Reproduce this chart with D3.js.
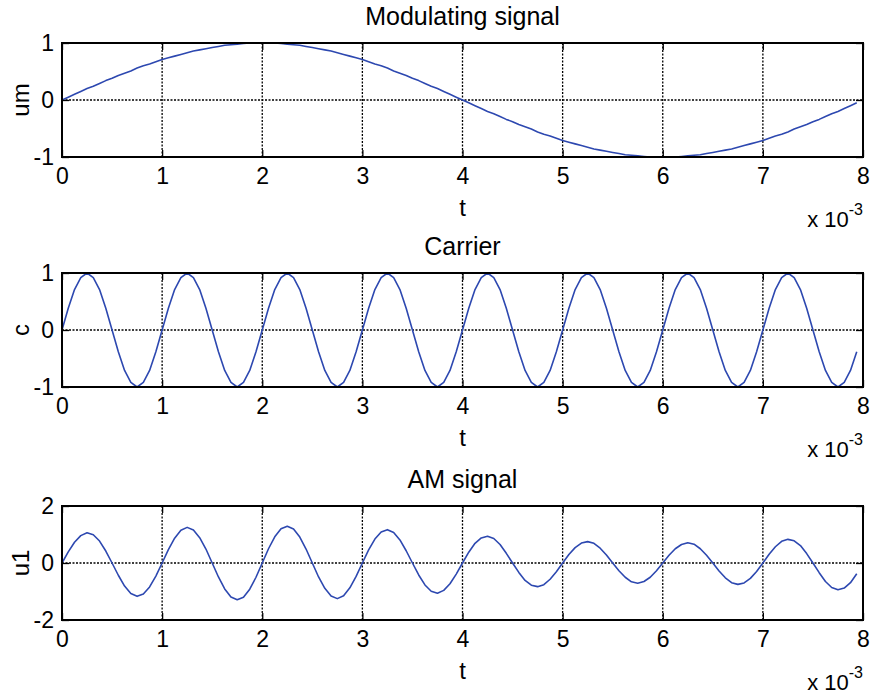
<!DOCTYPE html>
<html>
<head>
<meta charset="utf-8">
<script src="https://cdn.jsdelivr.net/npm/d3@7"></script>
<style>
  body { margin: 0; background: #fff; }
  svg text { font-family: "Liberation Sans", Arial, Helvetica, sans-serif; fill: #000; }
</style>
</head>
<body>
<div id="chart"></div>
<script>
// time between samples, in units of 1e-3 s (16 samples per carrier period)
const sampleStep = 1 / 16;
const xTicks = [0, 1, 2, 3, 4, 5, 6, 7, 8];

const modulating = [
  0, 0.05, 0.10, 0.15, 0.20, 0.24, 0.29, 0.34, 0.38, 0.43, 0.47, 0.51, 0.56, 0.60, 0.63, 0.67,
  0.71, 0.74, 0.77, 0.80, 0.83, 0.86, 0.88, 0.90, 0.92, 0.94, 0.96, 0.97, 0.98, 0.99, 1.00, 1.00,
  1.00, 1.00, 1.00, 0.99, 0.98, 0.97, 0.96, 0.94, 0.92, 0.90, 0.88, 0.86, 0.83, 0.80, 0.77, 0.74,
  0.71, 0.67, 0.63, 0.60, 0.56, 0.51, 0.47, 0.43, 0.38, 0.34, 0.29, 0.24, 0.20, 0.15, 0.10, 0.05,
  0, -0.05, -0.10, -0.15, -0.20, -0.24, -0.29, -0.34, -0.38, -0.43, -0.47, -0.51, -0.56, -0.60, -0.63, -0.67,
  -0.71, -0.74, -0.77, -0.80, -0.83, -0.86, -0.88, -0.90, -0.92, -0.94, -0.96, -0.97, -0.98, -0.99, -1.00, -1.00,
  -1.00, -1.00, -1.00, -0.99, -0.98, -0.97, -0.96, -0.94, -0.92, -0.90, -0.88, -0.86, -0.83, -0.80, -0.77, -0.74,
  -0.71, -0.67, -0.63, -0.60, -0.56, -0.51, -0.47, -0.43, -0.38, -0.34, -0.29, -0.24, -0.20, -0.15, -0.10, -0.05
];

const carrier = [
  0, 0.38, 0.71, 0.92, 1, 0.92, 0.71, 0.38, 0, -0.38, -0.71, -0.92, -1, -0.92, -0.71, -0.38,
  0, 0.38, 0.71, 0.92, 1, 0.92, 0.71, 0.38, 0, -0.38, -0.71, -0.92, -1, -0.92, -0.71, -0.38,
  0, 0.38, 0.71, 0.92, 1, 0.92, 0.71, 0.38, 0, -0.38, -0.71, -0.92, -1, -0.92, -0.71, -0.38,
  0, 0.38, 0.71, 0.92, 1, 0.92, 0.71, 0.38, 0, -0.38, -0.71, -0.92, -1, -0.92, -0.71, -0.38,
  0, 0.38, 0.71, 0.92, 1, 0.92, 0.71, 0.38, 0, -0.38, -0.71, -0.92, -1, -0.92, -0.71, -0.38,
  0, 0.38, 0.71, 0.92, 1, 0.92, 0.71, 0.38, 0, -0.38, -0.71, -0.92, -1, -0.92, -0.71, -0.38,
  0, 0.38, 0.71, 0.92, 1, 0.92, 0.71, 0.38, 0, -0.38, -0.71, -0.92, -1, -0.92, -0.71, -0.38,
  0, 0.38, 0.71, 0.92, 1, 0.92, 0.71, 0.38, 0, -0.38, -0.71, -0.92, -1, -0.92, -0.71, -0.38
];

const amSignal = [
  0, 0.39, 0.73, 0.96, 1.06, 0.99, 0.77, 0.42, 0, -0.43, -0.81, -1.07, -1.17, -1.09, -0.84, -0.46,
  0, 0.47, 0.87, 1.15, 1.25, 1.16, 0.89, 0.49, 0, -0.49, -0.91, -1.19, -1.29, -1.20, -0.92, -0.50,
  0, 0.50, 0.92, 1.20, 1.29, 1.19, 0.91, 0.49, 0, -0.49, -0.89, -1.16, -1.25, -1.15, -0.87, -0.47,
  0, 0.46, 0.84, 1.09, 1.17, 1.07, 0.81, 0.43, 0, -0.42, -0.77, -0.99, -1.06, -0.96, -0.73, -0.39,
  0, 0.38, 0.69, 0.88, 0.94, 0.86, 0.65, 0.34, 0, -0.33, -0.61, -0.78, -0.83, -0.76, -0.57, -0.31,
  0, 0.30, 0.54, 0.70, 0.75, 0.69, 0.52, 0.28, 0, -0.27, -0.50, -0.66, -0.71, -0.65, -0.50, -0.27,
  0, 0.27, 0.50, 0.65, 0.71, 0.66, 0.50, 0.27, 0, -0.28, -0.52, -0.69, -0.75, -0.70, -0.54, -0.30,
  0, 0.31, 0.57, 0.76, 0.83, 0.78, 0.61, 0.33, 0, -0.34, -0.65, -0.86, -0.94, -0.88, -0.69, -0.38
];

const panels = [
  { title: "Modulating signal", ylabel: "um", values: modulating, yDomain: [-1, 1], yTicks: [-1, 0, 1] },
  { title: "Carrier", ylabel: "c", values: carrier, yDomain: [-1, 1], yTicks: [-1, 0, 1] },
  { title: "AM signal", ylabel: "u1", values: amSignal, yDomain: [-2, 2], yTicks: [-2, 0, 2] }
];

const width = 877;
const height = 697;
const left = 62, right = 863;
const panelTops = [43, 273, 506];
const panelHeight = 114;
const tickLen = 7;

const svg = d3.select("#chart")
  .append("svg")
  .attr("width", width)
  .attr("height", height);

const x = d3.scaleLinear().domain([0, 8]).range([left, right]);

panels.forEach((p, k) => {
  const g = svg.append("g").attr("transform", `translate(0,${panelTops[k]})`);
  const y = d3.scaleLinear().domain(p.yDomain).range([panelHeight, 0]);

  // dotted grid
  g.selectAll(".vgrid")
    .data(xTicks.slice(1, -1))
    .enter()
    .append("line")
    .attr("x1", d => x(d)).attr("x2", d => x(d))
    .attr("y1", 0).attr("y2", panelHeight)
    .attr("stroke", "#000")
    .attr("stroke-width", 1.3)
    .attr("stroke-dasharray", "2,1.5");

  g.selectAll(".hgrid")
    .data(p.yTicks.slice(1, -1))
    .enter()
    .append("line")
    .attr("x1", left).attr("x2", right)
    .attr("y1", d => y(d)).attr("y2", d => y(d))
    .attr("stroke", "#000")
    .attr("stroke-width", 1.3)
    .attr("stroke-dasharray", "2,1.5");

  // the signal
  const line = d3.line()
    .x((d, i) => x(i * sampleStep))
    .y(d => y(d));

  g.append("path")
    .datum(p.values)
    .attr("fill", "none")
    .attr("stroke", "#2d48b0")
    .attr("stroke-width", 1.6)
    .attr("stroke-linejoin", "round")
    .attr("d", line);

  // axes, ticks pointing inward like matlab
  const bottom = g.append("g")
    .attr("transform", `translate(0,${panelHeight})`)
    .call(d3.axisBottom(x).tickValues(xTicks).tickSize(-tickLen).tickPadding(11).tickFormat(d => String(d)));
  const top = g.append("g")
    .call(d3.axisTop(x).tickValues(xTicks).tickSize(-tickLen).tickFormat(""));
  const leftAx = g.append("g")
    .attr("transform", `translate(${left},0)`)
    .call(d3.axisLeft(y).tickValues(p.yTicks).tickSize(-tickLen).tickPadding(8).tickFormat(d => String(d)));
  const rightAx = g.append("g")
    .attr("transform", `translate(${right},0)`)
    .call(d3.axisRight(y).tickValues(p.yTicks).tickSize(-tickLen).tickFormat(""));

  [bottom, top, leftAx, rightAx].forEach(a => {
    a.select(".domain").remove();
    a.selectAll(".tick line").attr("stroke", "#000").attr("stroke-width", 1.3);
    a.selectAll("text").attr("font-size", 23).attr("font-family", null);
  });

  // box
  g.append("rect")
    .attr("x", left).attr("y", 0)
    .attr("width", right - left).attr("height", panelHeight)
    .attr("fill", "none")
    .attr("stroke", "#000")
    .attr("stroke-width", 2);

  // title
  g.append("text")
    .attr("x", (left + right) / 2)
    .attr("y", -18)
    .attr("text-anchor", "middle")
    .attr("font-size", 25)
    .text(p.title);

  // x label
  g.append("text")
    .attr("x", (left + right) / 2)
    .attr("y", panelHeight + 59)
    .attr("text-anchor", "middle")
    .attr("font-size", 24)
    .text("t");

  // exponent
  const ex = g.append("text")
    .attr("x", right)
    .attr("y", panelHeight + 70)
    .attr("text-anchor", "end")
    .attr("font-size", 22);
  ex.append("tspan").text("x 10");
  ex.append("tspan").attr("dy", -12).attr("font-size", 16).text("-3");

  // y label
  g.append("text")
    .attr("transform", `translate(29,${panelHeight / 2}) rotate(-90)`)
    .attr("text-anchor", "middle")
    .attr("font-size", 24)
    .text(p.ylabel);
});
</script>
</body>
</html>
